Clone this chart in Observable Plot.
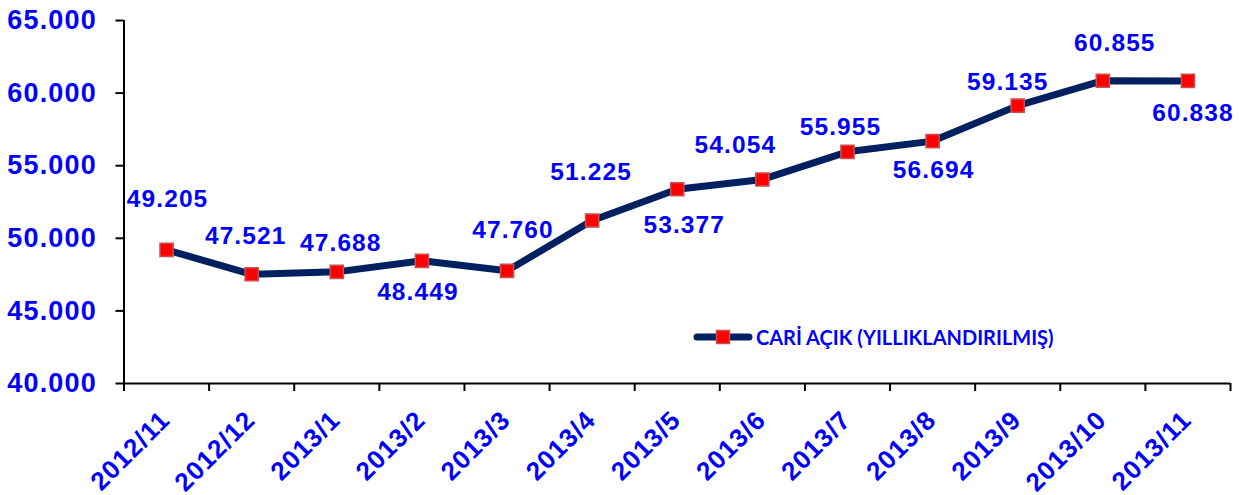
<!DOCTYPE html>
<html>
<head>
<meta charset="utf-8">
<script src="https://cdn.jsdelivr.net/npm/d3@7"></script>
<script src="https://cdn.jsdelivr.net/npm/@observablehq/plot@0.6"></script>
<style>
  html, body { margin: 0; padding: 0; background: #fff; }
  #wrap { position: relative; width: 1243px; height: 495px; }
  #legend { position: absolute; left: 693px; top: 325px; display: flex; align-items: center;
    font-family: Lato, "Open Sans", sans-serif; font-weight: 700; font-size: 20px; color: #0000ff; white-space: nowrap; }
  #legend svg { margin-right: 3px; }
  g[aria-label="y-axis tick label"] text { font-size: 27px; letter-spacing: 1.2px; font-weight: bold; }
  g.xlab text { font-size: 26px; letter-spacing: 1px; font-weight: bold; }
  g.vlab text { font-size: 24.5px; letter-spacing: 1.1px; font-weight: bold; }
</style>
</head>
<body>
<div id="wrap"></div>
<script>
// ---- data ----
const categories = ["2012/11","2012/12","2013/1","2013/2","2013/3","2013/4","2013/5","2013/6","2013/7","2013/8","2013/9","2013/10","2013/11"];
const values = [49205, 47521, 47688, 48449, 47760, 51225, 53377, 54054, 55955, 56694, 59135, 60855, 60838];
const yTicks = [40000, 45000, 50000, 55000, 60000, 65000];
const seriesName = "CARİ AÇIK (YILLIKLANDIRILMIŞ)";

// ---- layout of value labels (offset from point, px) ----
const labelOffsets = [[1,-51],[-6,-38],[4,-29],[-4,31],[6,-41],[-1,-48],[7,36],[-27,-34],[-7,-25],[1,29],[-10,-24],[12,-38],[5,32]];

const rows = categories.map((c, i) => ({i: i + 0.5, cat: c, v: values[i]}));
const fmt = v => d3.format(",")(v).replace(/,/g, ".");

const blue = "#0000ff";
const navy = "#002060";

const labelMarks = rows.map((r, k) => Plot.text([r], {
  x: "i", y: "v", text: d => fmt(d.v),
  dx: labelOffsets[k][0], dy: labelOffsets[k][1],
  fill: blue, fontSize: 24.5, fontWeight: "bold", className: "vlab"
}));

const chart = Plot.plot({
  width: 1243,
  height: 495,
  marginLeft: 123.5,
  marginRight: 13,
  marginTop: 20,
  marginBottom: 112,
  style: {fontFamily: "'Liberation Sans', Arial, sans-serif", background: "#fff", overflow: "visible"},
  x: {type: "linear", domain: [0, categories.length]},
  y: {domain: [40000, 65000]},
  marks: [
    Plot.axisY({ticks: yTicks, tickSize: 8, tickPadding: 19, tickFormat: fmt, stroke: "#000", strokeWidth: 2,
      fill: blue, fontSize: 27, fontWeight: "bold", label: null}),
    Plot.axisX({ticks: d3.range(categories.length + 1), tickSize: 8, tickFormat: () => "", stroke: "#000", strokeWidth: 2, label: null}),
    Plot.axisX({ticks: rows.map(r => r.i), tickSize: 0, tickFormat: d => categories[Math.floor(d)],
      tickRotate: -45, textAnchor: "end", lineAnchor: "bottom", dx: 5, dy: 38, tickPadding: 0,
      fill: blue, fontSize: 26, fontWeight: "bold", className: "xlab", label: null}),
    Plot.ruleX([0], {stroke: "#000", strokeWidth: 2}),
    Plot.ruleY([40000], {stroke: "#000", strokeWidth: 2}),
    Plot.line(rows, {x: "i", y: "v", stroke: navy, strokeWidth: 7, strokeLinejoin: "round", strokeLinecap: "round"}),
    Plot.dot(rows, {x: "i", y: "v", symbol: "square", r: 7.4, fill: "#ff0000", stroke: "#c9504d", strokeWidth: 1.5}),
    ...labelMarks
  ]
});

const wrap = document.getElementById("wrap");
wrap.appendChild(chart);

const legend = document.createElement("div");
legend.id = "legend";
legend.innerHTML = `<svg width="60" height="16"><line x1="4" y1="8" x2="56" y2="8" stroke="${navy}" stroke-width="7" stroke-linecap="round"/><rect x="23.5" y="1.5" width="13" height="13" fill="#ff0000" stroke="#c9504d" stroke-width="1.5"/></svg><span></span>`;
legend.querySelector("span").textContent = seriesName;
wrap.appendChild(legend);
</script>
</body>
</html>
